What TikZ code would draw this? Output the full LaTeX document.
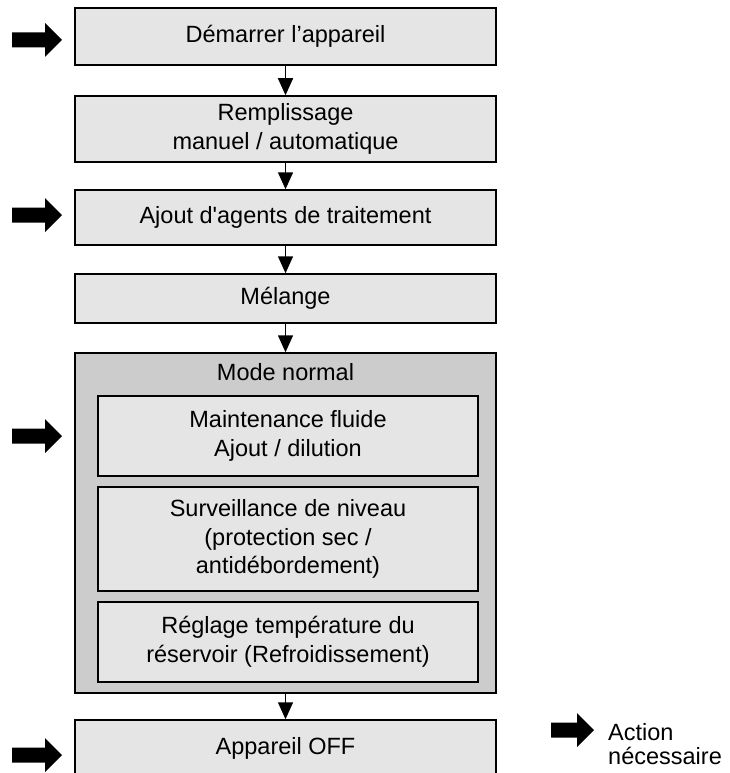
\documentclass[tikz,border=0pt]{standalone}
\usepackage{fontspec}
\setmainfont{Liberation Sans}
\usepackage{tikz}
\usetikzlibrary{arrows.meta,positioning}
\definecolor{boxfill}{RGB}{229,229,229}
\definecolor{modefill}{RGB}{204,204,204}
\tikzset{
  stepbox/.style={draw, line width=1.5pt, fill=boxfill, minimum width=421pt, inner sep=0pt, align=center},
  innerbox/.style={stepbox, minimum width=380pt},
  flow/.style={line width=1.5pt, -{Triangle[length=17pt,width=15pt]}},
  pics/actarrow/.style={code={\fill (0,-7.5) -- (#1,-7.5) -- (#1,-17) -- (#1+17,0) -- (#1,17) -- (#1,7.5) -- (0,7.5) -- cycle;}}
}

\begin{document}
\begin{tikzpicture}[x=1pt, y=-1pt, font=\fontsize{23.5}{28.5}\selectfont]
    \useasboundingbox (0,0) rectangle (730,773);

    % Steps
    \node[stepbox, minimum height=57pt] (start) at (285.5,36.5) {Démarrer l’appareil};
    \node[stepbox, minimum height=66pt] (fill) at (285.5,129) {Remplissage\\manuel / automatique};
    \node[stepbox, minimum height=55pt] (agents) at (285.5,217.5) {Ajout d\textquotesingle agents de traitement};
    \node[stepbox, minimum height=49pt] (mix) at (285.5,298.5) {Mélange};

    % Normal mode
    \node[stepbox, fill=modefill, minimum height=340pt] (mode) at (285.5,523) {};
    \node (modetitle) at (285.5,372) {Mode normal};
    \node[innerbox, minimum height=80pt] (maint) at (288,436) {Maintenance fluide\\Ajout / dilution};
    \node[innerbox, minimum height=104pt] (level) at (288,539) {Surveillance de niveau\\(protection sec /\\antidébordement)};
    \node[innerbox, minimum height=80pt] (temp) at (288,642) {Réglage température du\\réservoir (Refroidissement)};

    \node[stepbox, minimum height=56pt] (off) at (285.5,748) {Appareil OFF};

    % Flow
    \draw[flow] (start) -- (fill);
    \draw[flow] (fill) -- (agents);
    \draw[flow] (agents) -- (mix);
    \draw[flow] (mix) -- (mode);
    \draw[flow] (mode) -- (off);

    % Actions
    \pic at (12,40) {actarrow=33};
    \pic at (12,215) {actarrow=33};
    \pic at (12,436) {actarrow=33};
    \pic at (12,755) {actarrow=33};

    % Legend
    \pic at (551,730) {actarrow=26};
    \node[anchor=north west, inner sep=0pt, align=left, font=\fontsize{23.5}{24}\selectfont] (legend) at (608,723) {Action\\nécessaire};
\end{tikzpicture}
\end{document}
